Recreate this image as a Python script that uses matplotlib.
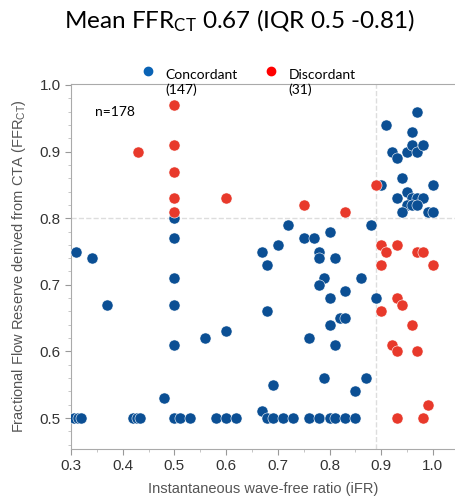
import numpy as np
import matplotlib.pyplot as plt
from matplotlib.ticker import MultipleLocator

# concordant points (iFR, FFRct)
conc_ifr = [0.97, 0.91, 0.96, 0.92, 0.93, 0.95, 0.96, 0.97, 0.98,
            0.90, 0.94, 0.95, 0.93, 1.00, 0.96, 0.97, 0.98, 0.95, 0.96, 0.97, 0.94, 0.99, 1.00, 0.88,
            0.72, 0.70, 0.67, 0.68, 0.75, 0.77, 0.80, 0.78, 0.78, 0.81, 0.79, 0.78, 0.86, 0.83,
            0.80, 0.89, 0.68, 0.82, 0.83, 0.80, 0.76, 0.81, 0.79, 0.87, 0.69, 0.85, 0.67,
            0.31, 0.34, 0.37, 0.50, 0.50, 0.50, 0.50, 0.50, 0.56, 0.60, 0.48,
            0.305, 0.313, 0.32, 0.42, 0.427, 0.433, 0.50, 0.51, 0.53, 0.58, 0.60, 0.62,
            0.68, 0.69, 0.71, 0.73, 0.76, 0.78, 0.80, 0.81, 0.83, 0.85]
conc_ffr = [0.96, 0.94, 0.93, 0.90, 0.89, 0.90, 0.91, 0.90, 0.91,
            0.85, 0.86, 0.84, 0.83, 0.85, 0.83, 0.83, 0.83, 0.82, 0.82, 0.82, 0.81, 0.81, 0.81, 0.79,
            0.79, 0.76, 0.75, 0.73, 0.77, 0.77, 0.78, 0.75, 0.74, 0.74, 0.71, 0.70, 0.71, 0.69,
            0.68, 0.68, 0.66, 0.65, 0.65, 0.64, 0.62, 0.61, 0.56, 0.56, 0.55, 0.54, 0.51,
            0.75, 0.74, 0.67, 0.80, 0.77, 0.71, 0.67, 0.61, 0.62, 0.63, 0.53,
            0.50, 0.50, 0.50, 0.50, 0.50, 0.50, 0.50, 0.50, 0.50, 0.50, 0.50, 0.50,
            0.50, 0.50, 0.50, 0.50, 0.50, 0.50, 0.50, 0.50, 0.50, 0.50]

# discordant points
disc_ifr = [0.50, 0.43, 0.50, 0.50, 0.50, 0.60, 0.50, 0.75, 0.83, 0.89,
            0.90, 0.91, 0.93, 0.97, 0.98, 0.90, 1.00, 0.93, 0.94, 0.90,
            0.96, 0.92, 0.93, 0.97, 0.99, 0.93, 0.98]
disc_ffr = [0.97, 0.90, 0.91, 0.87, 0.83, 0.83, 0.81, 0.82, 0.81, 0.85,
            0.76, 0.75, 0.76, 0.75, 0.75, 0.73, 0.73, 0.68, 0.67, 0.66,
            0.64, 0.61, 0.60, 0.60, 0.52, 0.50, 0.50]

groups = ['Concordant\n(147)', 'Discordant\n(31)']

blue = '#0b4f94'
red = '#e8392b'
grey = '#555555'

plt.rcParams['font.family'] = ['Liberation Sans', 'DejaVu Sans']
plt.rcParams['mathtext.default'] = 'regular'

fig = plt.figure(figsize=(4.55, 4.98), dpi=100)
ax = fig.add_axes([71/455, 49/498, 384/455, 365/498])

ax.scatter(conc_ifr, conc_ffr, s=64, color=blue, edgecolors='white', linewidths=0.4, zorder=3)
ax.scatter(disc_ifr, disc_ffr, s=64, color=red, edgecolors='white', linewidths=0.4, zorder=4)

ax.axvline(0.89, color='#dddddd', ls='--', lw=1, zorder=1)
ax.axhline(0.8, color='#dddddd', ls='--', lw=1, zorder=1)

ax.set_xlim(0.3, 0.3 + 384/517)
ax.set_ylim(0.4535, 1.0015)
ax.xaxis.set_minor_locator(MultipleLocator(0.05))
ax.yaxis.set_minor_locator(MultipleLocator(0.02))
ax.set_xticks(np.arange(0.3, 1.01, 0.1))
ax.set_xticklabels(['0.3', '0.4', '0.5', '0.6', '0.7', '0.8', '0.9', '1.0'])
ax.set_yticks(np.arange(0.5, 1.01, 0.1))
ax.set_yticklabels(['0.5', '0.6', '0.7', '0.8', '0.9', '1.0'])
ax.tick_params(which='major', length=4, color='#999999', labelsize=11, labelcolor='#333333')
ax.tick_params(which='minor', length=2.5, color='#bbbbbb')

for s in ['left', 'bottom', 'top']:
    ax.spines[s].set_color('#aaaaaa')
ax.spines['right'].set_visible(False)

ax.set_xlabel('Instantaneous wave-free ratio (iFR)', fontsize=10.5, color=grey, labelpad=6)
ax.set_ylabel('Fractional Flow Reserve derived from CTA (FFR$_{CT}$)', fontsize=10.5,
              color=grey, labelpad=8)

ax.text(0.346, 0.96, 'n=178', fontsize=10, family='Lato', va='center')

# legend drawn by hand above the plot area
leg_x = [0.2005, 0.521]
leg_col = ['#0a63b5', '#ff0000']
for lx, lc, lab in zip(leg_x, leg_col, groups):
    ax.plot([lx], [1.0356], 'o', ms=6, color=lc, transform=ax.transAxes, clip_on=False)
    ax.text(lx + 0.045, 1.003, lab, transform=ax.transAxes, va='center', ha='left',
            fontsize=10, family='Lato', linespacing=1.25)

fig.text(0.525, 0.958, 'Mean FFR$_{CT}$ 0.67 (IQR 0.5 -0.81)', ha='center', va='center',
         fontsize=17.5, family='Lato')

fig.savefig('out.png', dpi=100)
